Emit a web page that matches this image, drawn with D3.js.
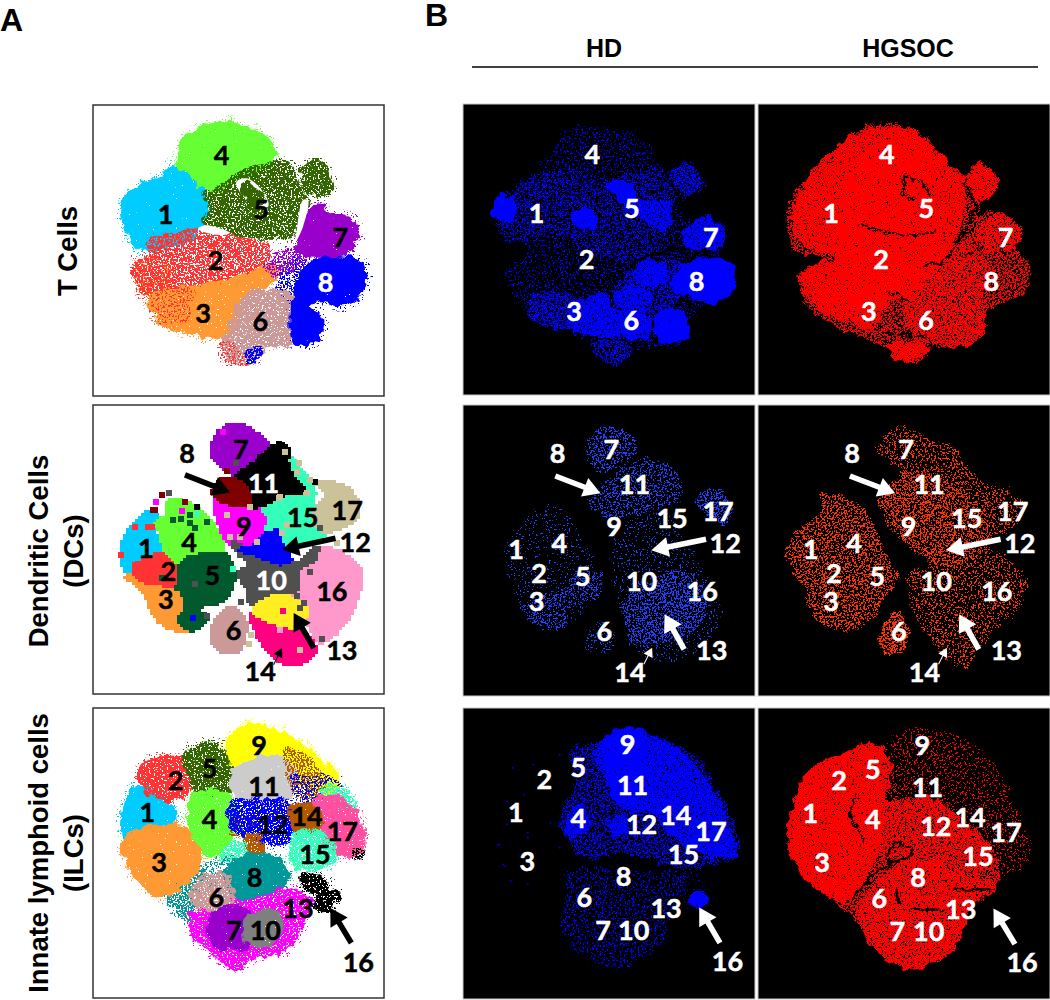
<!DOCTYPE html>
<html>
<head>
<meta charset="utf-8">
<script src="https://cdn.jsdelivr.net/npm/d3@7"></script>
<style>
body { margin: 0; background: #fff; }
svg { display: block; }
text { font-family: "Liberation Sans", Arial, sans-serif; font-weight: bold; }
.num { font-family: Lato, "Open Sans", sans-serif; font-weight: bold; text-anchor: middle; dominant-baseline: central; stroke-width: .5; }
</style>
</head>
<body>
<div id="container"></div>
<script>
// Cluster colours by cluster number, one list per lineage
const tCellColors = { 1: "#00ccff", 2: "#ff3333", 3: "#ff9933", 4: "#66ff33", 5: "#336600", 6: "#cc9999", 7: "#9900cc", 8: "#0000ff" };
const dcColors = { 1: "#00ccff", 2: "#ff3333", 3: "#ff9933", 4: "#66ff33", 5: "#005a2e", 6: "#cc9999", 7: "#9900cc", 8: "#800000", 9: "#ff00ff",
    10: "#505050", 11: "#000000", 12: "#0000ff", 13: "#ffee22", 14: "#ff0080", 15: "#33ffbb", 16: "#ff99cc", 17: "#ccc299" };
const ilcColors = { 1: "#00ccff", 2: "#ff3333", 3: "#ff9933", 4: "#66ff33", 5: "#336600", 6: "#cc9999", 7: "#9900cc", 8: "#009999", 9: "#ffff00",
    10: "#7f7f7f", 11: "#cccccc", 12: "#0000ff", 13: "#ff00ff", 14: "#b35900", 15: "#33ffbb", 16: "#000000", 17: "#ff4fa0" };

// Cluster outlines: [cluster, density, outline]
const tCellBlobs = [
    [1, .96, [[105,345],[120,290],[160,258],[215,235],[250,205],[300,240],[330,270],[345,335],[325,385],[290,420],[220,435],[160,445],[125,405]]],
    [4, .97, [[275,150],[310,100],[400,75],[490,95],[540,135],[545,175],[500,210],[440,230],[380,262],[340,255],[300,215],[270,190]]],
    [5, .8, [[345,290],[400,265],[450,225],[530,200],[590,195],[620,250],[650,300],[630,345],[610,400],[530,405],[460,405],[380,385],[350,365],[370,325]]],
    [5, .85, [[640,215],[680,188],[715,225],[725,265],[690,280],[650,255]]],
    [3, .5, [[140,510],[190,480],[240,520],[200,590],[150,550]]],
    [2, .72, [[180,430],[300,400],[400,405],[470,430],[530,440],[500,510],[440,530],[380,550],[280,560],[190,585],[140,530],[145,490],[200,465]]],
    [3, .94, [[185,600],[280,565],[400,550],[470,530],[550,500],[560,520],[470,590],[440,660],[410,705],[310,690],[220,665]]],
    [2, .3, [[190,600],[300,570],[280,660],[220,660]]],
    [8, .5, [[570,540],[630,480],[650,600],[620,650],[590,600]]],
    [6, .9, [[470,590],[540,575],[610,590],[640,660],[610,720],[520,725],[440,700],[430,670]]],
    [6, .85, [[410,715],[490,720],[510,760],[460,785],[420,770]]],
    [2, .35, [[395,730],[440,750],[470,785],[420,780]]],
    [8, .7, [[470,770],[500,745],[512,760],[480,785]]],
    [7, .97, [[650,365],[690,320],[710,350],[770,355],[800,400],[770,450],[700,460],[630,445]]],
    [8, .98, [[640,520],[700,480],[780,480],[815,500],[810,570],[760,610],[690,590],[650,610],[690,660],[670,720],[620,720],[610,650],[620,610]]],
    [7, .55, [[530,500],[620,450],[640,470],[570,520]]]
];
const tCellGaps = [
    [[440,245],[475,235],[530,290],[535,320],[480,305],[450,275]],
    [[620,400],[640,300],[655,300],[640,380],[615,430]],
    [[325,385],[350,375],[420,398],[400,405],[340,395]]
];
const tCellInner = [
    [5, .92, [[450,260],[470,242],[510,272],[530,310],[500,320],[460,290]]]
];
const dcBlobs = [
    [1, 1, [[100,440],[115,395],[150,360],[170,335],[200,350],[190,390],[220,440],[205,480],[150,500],[130,530],[105,510]]],
    [3, 1, [[110,530],[160,530],[210,550],[280,570],[295,630],[300,690],[230,680],[190,640],[170,590],[135,550]]],
    [2, 1, [[130,510],[205,465],[260,490],[290,520],[270,560],[210,550],[150,540]]],
    [4, 1, [[195,375],[230,345],[240,300],[310,320],[350,350],[390,420],[400,460],[340,470],[280,490],[225,450],[215,400]]],
    [5, 1, [[275,490],[340,465],[410,470],[430,540],[400,600],[340,615],[320,640],[350,650],[340,670],[300,690],[270,660],[290,620],[275,570]]],
    [6, 1, [[385,650],[425,625],[465,670],[445,750],[400,755],[365,715]]],
    [7, 1, [[370,125],[395,90],[445,75],[510,110],[545,150],[520,180],[440,225],[410,210],[370,170]]],
    [9, 1, [[375,305],[420,310],[475,310],[520,330],[525,370],[510,420],[480,445],[430,440],[400,400]]],
    [15, 1, [[590,170],[640,220],[670,270],[670,320],[695,370],[700,410],[620,430],[580,450],[560,400],[520,420],[540,350],[520,325],[590,280],[635,270],[605,230]]],
    [11, 1, [[430,240],[470,205],[510,180],[555,135],[590,145],[590,190],[610,240],[640,270],[590,280],[530,310],[480,320],[460,275]]],
    [8, 1, [[370,270],[410,235],[470,270],[475,310],[420,310],[380,295]]],
    [17, 1, [[680,250],[710,245],[780,275],[805,330],[790,360],[740,385],[700,395],[675,360],[680,320],[710,290]]],
    [16, 1, [[680,445],[750,460],[810,510],[800,590],[770,660],[700,725],[680,720],[640,640],[590,590],[620,570],[625,510]]],
    [10, 1, [[430,430],[480,450],[570,470],[620,490],[680,445],[670,480],[625,510],[620,570],[560,590],[510,625],[480,605],[470,560],[445,525],[480,490],[445,460]]],
    [12, 1, [[450,450],[490,440],[520,410],[560,395],[575,440],[600,480],[570,490],[500,465]]],
    [14, 1, [[485,645],[520,670],[590,680],[660,720],[670,760],[610,795],[550,770],[510,720]]],
    [13, 1, [[490,635],[550,590],[590,590],[650,635],[620,680],[560,670],[510,650]]]
];
// Stray cells on the DC map: [cluster, x, y]
const dcStrays = [
    [8,195,330],[8,215,285],[10,238,280],[8,285,305],[9,198,307],[9,275,332],[11,320,320],[2,137,382],[2,95,465],[2,185,380],
    [5,250,360],[5,300,345],[5,350,365],[5,315,385],[5,272,358],[15,320,342],[10,315,552],[12,310,655],[10,350,650],[15,430,507],
    [10,452,607],[17,482,707],[17,475,733],[10,695,718],[10,660,517],[17,740,428],[17,575,398],[17,620,215],[17,585,155],[11,675,245],
    [17,410,345],[17,420,412],[17,450,410],[14,578,633],[17,630,750],[10,438,190],[8,410,212],[10,690,385],[17,565,295],[17,590,375],
    [16,570,690],[10,620,590],[11,555,140],[11,510,170],[17,650,280],[17,625,190],[17,570,290],[17,660,240],[17,480,320],[17,500,425],
    [9,400,95],[11,575,135],[5,300,370],[8,190,330],[10,640,610],[10,630,625],[5,260,565],[5,215,535],[2,175,380],[2,135,495]
];
const ilcBlobs = [
    [8, .65, [[235,580],[320,500],[340,530],[300,600],[300,655],[250,610]]],
    [1, .96, [[105,370],[115,310],[135,270],[200,290],[250,330],[245,370],[180,385],[110,410]]],
    [2, .9, [[155,230],[170,195],[240,175],[295,190],[305,250],[270,290],[200,285],[160,255]]],
    [3, .95, [[105,440],[135,400],[230,385],[280,395],[325,440],[320,500],[260,570],[210,580],[150,535]]],
    [5, .85, [[290,180],[350,135],[410,160],[435,200],[425,240],[400,280],[340,275],[310,240]]],
    [4, .94, [[300,340],[320,290],[385,280],[430,320],[435,385],[400,440],[370,460],[340,440],[310,390]]],
    [9, .95, [[420,130],[470,85],[560,100],[620,130],[670,170],[740,240],[720,270],[620,240],[590,180],[500,180],[440,205]]],
    [11, .96, [[430,240],[480,190],[570,180],[610,230],[590,295],[510,305],[450,290]]],
    [14, .55, [[600,150],[660,190],[700,260],[680,290],[610,260]]],
    [12, .45, [[610,240],[740,250],[745,290],[640,300]]],
    [15, .7, [[700,270],[745,265],[790,320],[770,330]]],
    [17, .93, [[680,310],[730,290],[790,340],[815,420],[800,460],[730,450],[700,410]]],
    [14, .5, [[440,360],[490,360],[470,400],[430,400]]],
    [12, .8, [[430,310],[520,310],[590,310],[610,400],[550,430],[470,400],[430,380]]],
    [14, .95, [[610,330],[650,320],[690,345],[670,390],[620,385]]],
    [14, .9, [[470,420],[505,410],[515,450],[490,460]]],
    [15, .7, [[400,470],[440,430],[470,440],[430,480]]],
    [15, .85, [[610,420],[640,400],[700,410],[730,440],[720,490],[640,500],[610,470]]],
    [13, .85, [[440,590],[580,570],[660,610],[640,650],[620,700],[580,750],[500,760],[440,800],[380,760],[310,690],[320,640],[390,640]]],
    [8, .95, [[415,510],[480,470],[570,490],[590,530],[540,570],[470,590],[420,560]]],
    [8, .4, [[330,520],[420,480],[420,520],[340,560]]],
    [6, .85, [[330,545],[400,530],[430,590],[400,630],[340,625],[310,600]]],
    [7, .96, [[385,640],[470,640],[480,730],[430,740],[380,730],[360,690]]],
    [10, .96, [[480,650],[550,640],[570,680],[540,730],[480,730],[470,690]]],
    [16, .9, [[640,535],[680,535],[720,570],[745,590],[720,620],[680,620],[700,585],[650,560]]],
    [16, .6, [[795,450],[820,460],[810,475],[795,465]]]
];

// Event density regions on the HD / HGSOC maps: [density, outline]
const tCellHd = [
    [.22, [[130,310],[240,170],[290,95],[480,120],[540,220],[610,190],[645,260],[580,310],[620,370],[660,350],[705,400],[690,480],[725,510],[720,585],[650,610],[610,660],[600,720],[520,740],[460,745],[430,790],[370,750],[290,690],[190,650],[130,520],[190,460],[100,350]]],
    [.3, [[100,340],[180,240],[300,220],[400,240],[540,220],[550,400],[460,480],[380,470],[260,400],[130,420]]],
    [.45, [[360,740],[410,720],[455,750],[430,790],[375,775]]],
    [.6, [[565,225],[605,195],[640,255],[600,275]]],
    [.45, [[420,560],[560,480],[620,520],[560,620],[450,700]]],
    [.5, [[190,650],[210,590],[300,600],[290,680]]],
    [.98, [[92,345],[118,290],[150,335],[130,365]]],
    [.96, [[300,365],[335,330],[365,370],[345,385]]],
    [.98, [[400,260],[420,242],[462,285],[440,308]]],
    [.8, [[440,325],[550,315],[545,400],[500,360]]],
    [.98, [[565,560],[610,495],[715,495],[720,580],[660,605],[600,585]]],
    [.88, [[600,405],[655,355],[700,400],[680,445],[605,435]]],
    [.9, [[465,520],[490,490],[535,490],[555,540],[485,552]]],
    [.85, [[420,590],[465,565],[505,590],[470,640],[425,615]]],
    [.88, [[300,620],[385,595],[420,640],[490,650],[500,715],[430,710],[300,685]]],
    [.97, [[525,660],[560,632],[605,660],[598,715],[535,720]]]
];
const tCellHgsoc = [
    [.55, [[880,330],[905,265],[970,220],[1050,100],[1140,75],[1230,110],[1310,210],[1345,240],[1385,190],[1430,260],[1390,300],[1370,350],[1440,345],[1490,400],[1470,450],[1505,490],[1505,560],[1440,610],[1390,640],[1395,700],[1310,740],[1240,720],[1235,770],[1190,790],[1140,745],[950,640],[905,530],[985,480],[890,440]]],
    [.55, [[1200,500],[1340,430],[1400,500],[1380,600],[1395,700],[1310,740],[1200,700]]],
    [.84, [[900,420],[900,300],[1050,110],[1200,100],[1300,200],[1340,260],[1310,420],[1220,560],[1130,620],[1100,680],[1000,650],[950,620],[910,530],[1000,470]]],
    [.8, [[1000,400],[1050,200],[1200,110],[1260,190],[1180,400],[1200,500],[1100,620],[1000,620],[940,560],[1010,470]]],
    [.8, [[1350,240],[1385,195],[1425,260],[1390,300]]],
    [.85, [[1140,745],[1180,730],[1240,750],[1190,785]]],
    [.8, [[1380,390],[1440,350],[1485,400],[1470,440],[1400,450]]]
];
const tCellStreaks = [
    [[1170,262],[1190,235],[1225,245],[1250,285]],
    [[1172,265],[1190,295],[1215,305]],
    [[1070,370],[1095,385],[1150,400],[1220,405],[1265,392]],
    [[1345,250],[1370,320],[1340,400],[1290,480],[1235,500]],
    [[1340,470],[1400,440]],
    [[1140,580],[1190,600]],
    [[1130,700],[1240,715]]
];
const dcHd = [
    [.1, [[120,470],[180,360],[260,320],[320,420],[370,540],[340,610],[260,690],[170,640],[150,560]]],
    [.3, [[170,620],[240,590],[320,530],[370,520],[370,590],[290,620],[280,680],[220,680]]],
    [.35, [[340,150],[370,95],[440,100],[470,150],[430,190],[370,215]]],
    [.32, [[350,310],[420,220],[500,185],[570,220],[585,290],[500,330],[400,350]]],
    [.45, [[640,290],[680,275],[720,320],[705,365],[650,340]]],
    [.12, [[430,400],[550,340],[590,420],[640,510],[690,660],[600,770],[480,760],[440,640],[410,530]]],
    [.4, [[450,600],[520,540],[600,520],[650,620],[620,690],[500,730],[460,720]]],
    [.2, [[345,700],[380,670],[410,750],[340,745]]]
];
const dcHgsoc = [
    [.42, [[875,460],[900,400],[960,340],[970,290],[1000,290],[1070,330],[1110,420],[1160,540],[1130,590],[1090,660],[1040,690],[980,680],[950,650],[920,570],[890,520]]],
    [.55, [[1120,720],[1160,640],[1190,700],[1170,750],[1130,760]]],
    [.3, [[1115,150],[1170,85],[1250,130],[1300,140],[1370,240],[1470,285],[1490,340],[1450,400],[1390,420],[1500,540],[1470,640],[1400,710],[1340,795],[1290,770],[1250,710],[1210,630],[1195,530],[1260,500],[1200,440],[1140,370],[1120,290],[1180,230]]],
    [.28, [[1125,300],[1200,220],[1350,300],[1400,420],[1300,500],[1190,430]]]
];
const ilcHd = [
    [.45, [[300,155],[380,125],[440,85],[560,130],[640,190],[690,290],[720,350],[730,465],[640,490],[560,490],[420,450],[340,470],[280,390],[270,350],[310,260]]],
    [.82, [[380,125],[440,85],[520,115],[600,170],[670,270],[700,350],[730,465],[700,470],[620,440],[550,390],[530,340],[420,310],[395,230],[360,180]]],
    [.9, [[385,130],[440,90],[490,115],[470,290],[420,300],[395,220]]],
    [.9, [[285,360],[320,320],[345,370],[300,410]]],
    [.9, [[400,365],[440,355],[440,400],[410,400]]],
    [.25, [[290,525],[380,510],[520,520],[600,530],[560,620],[540,720],[420,800],[380,790],[290,720],[275,660],[290,580]]],
    [.08, [[570,480],[620,480],[650,570],[600,630]]],
    [.99, [[612,600],[640,578],[658,595],[640,622]]]
];
// Lone HD cells in the empty left lobe of the ILC map
const ilcHdStrays = [[140,200],[195,190],[125,300],[170,280],[125,370],[180,395],[105,430],[115,490],[135,540],[180,550],[240,365],[265,440],[265,160],[180,410],[100,432],[120,495]];
const ilcHgsoc = [
    [.22, [[1120,150],[1180,95],[1300,100],[1410,190],[1480,340],[1510,470],[1430,520],[1340,370],[1250,300],[1130,310]]],
    [.6, [[875,400],[900,280],[930,210],[1000,175],[1110,135],[1130,300],[1250,300],[1340,370],[1420,470],[1420,560],[1350,620],[1340,680],[1300,750],[1190,800],[1110,750],[1050,650],[950,560],[890,480]]],
    [.5, [[1130,320],[1250,300],[1340,370],[1420,460],[1360,520],[1200,490],[1110,430]]],
    [.85, [[875,400],[900,280],[930,210],[1000,175],[1110,135],[1140,190],[1130,300],[1110,440],[1060,560],[1030,600],[950,560],[890,480]]],
    [.85, [[1060,640],[1100,560],[1160,500],[1220,480],[1330,520],[1420,560],[1350,620],[1340,680],[1300,750],[1190,800],[1110,750]]]
];
const ilcStreaks = [
    [[1055,280],[1040,350],[1075,425]],
    [[1130,470],[1165,430],[1200,460],[1135,490]],
    [[1135,490],[1065,565],[1040,600]],
    [[1310,565],[1410,572]],
    [[1160,570],[1170,610]],
    [[1200,625],[1290,630]]
];

// Cluster number labels: [text, x, y]
const tCellMapLabels = [["1",228,340],["2",378,478],["3",340,636],["4",396,162],["5",514,325],["6",512,660],["7",752,410],["8",708,545]];
const dcMapLabels = [["1",168,443],["2",235,513],["3",228,597],["4",297,425],["5",367,523],["6",430,690],["7",452,145],["8",291,158],["9",461,377],["10",543,540],["11",520,248],["12",794,425],["13",754,748],["14",510,812],["15",637,350],["16",724,572],["17",770,328]];
const ilcMapLabels = [["1",173,335],["2",258,238],["3",208,485],["4",360,355],["5",360,202],["6",380,590],["7",433,690],["8",495,530],["9",508,133],["10",527,690],["11",523,257],["12",550,372],["13",625,622],["14",652,347],["15",676,462],["16",806,785],["17",758,392]];
const whiteOnMap = ["8","10","11"];
const tCellHdLabels = [["4",353,162],["1",205,340],["5",458,325],["2",338,478],["7",668,412],["8",630,545],["3",305,635],["6",457,660]];
const dcHdLabels = [["7",404,148],["8",261,160],["11",465,252],["17",687,332],["15",565,353],["9",411,378],["4",266,428],["1",151,447],["12",706,428],["2",212,518],["5",328,528],["10",484,544],["16",645,574],["3",205,602],["6",385,692],["13",670,750],["14",453,815]];
const ilcHdLabels = [["9",447,130],["5",316,198],["2",226,235],["11",460,253],["1",150,333],["4",316,352],["14",575,343],["12",484,370],["17",668,390],["3",181,480],["15",595,460],["8",436,525],["6",332,588],["13",549,622],["7",382,688],["10",463,688],["16",712,782]];
const ilcHgsocLabels = [["9",1229,133],["5",1098,203],["2",1008,238],["11",1243,258],["1",932,337],["4",1098,355],["14",1356,347],["12",1265,375],["17",1451,393],["3",963,485],["15",1377,465],["8",1218,530],["6",1115,592],["13",1331,626],["7",1163,692],["10",1246,692],["16",1494,785]];

// Arrows: [x1, y1, x2, y2]
const dcMapArrows = [[285,225,420,278],[735,415,575,450],[670,745,610,640],[550,795,575,745]];
const ilcMapArrows = [[785,730,722,625]];
const dcHdArrows = [[255,230,375,282],[655,420,510,453],[597,750,545,645],[490,795,512,745]];
const ilcHdArrows = [[692,728,637,622]];
const ilcHgsocArrows = [[1475,732,1418,625]];

const svg = d3.select("#container").append("svg").attr("width", 1050).attr("height", 1000);
const defs = svg.append("defs");

// Density -> noise threshold for the speckle filter
const noiseThreshold = d3.scaleLinear()
    .domain([0, .1, .3, .5, .7, .9, 1])
    .range([.78, .66, .57, .5, .43, .34, .1]);

const filters = new Set();
function speckle(density, seed) {
    const id = `sp-${Math.round(density * 100)}-${seed}`;
    if (!filters.has(id)) {
        filters.add(id);
        const t = noiseThreshold(density);
        const f = defs.append("filter").attr("id", id)
            .attr("x", "-15%").attr("y", "-15%").attr("width", "130%").attr("height", "130%")
            .attr("color-interpolation-filters", "sRGB");
        f.append("feTurbulence").attr("type", "fractalNoise").attr("baseFrequency", .11).attr("numOctaves", 2).attr("seed", 3).attr("result", "wob");
        f.append("feDisplacementMap").attr("in", "SourceGraphic").attr("in2", "wob").attr("scale", 11)
            .attr("xChannelSelector", "R").attr("yChannelSelector", "G").attr("result", "rough");
        f.append("feTurbulence").attr("type", "fractalNoise").attr("baseFrequency", .55).attr("numOctaves", 2).attr("seed", seed).attr("result", "grain");
        f.append("feColorMatrix").attr("in", "grain").attr("type", "matrix")
            .attr("values", `0 0 0 0 0  0 0 0 0 0  0 0 0 0 0  40 0 0 0 ${-40 * t}`).attr("result", "mask");
        f.append("feComposite").attr("in", "rough").attr("in2", "mask").attr("operator", "in");
    }
    return `url(#${id})`;
}

// Blocky look of the DC map
const pix = defs.append("filter").attr("id", "pixelate").attr("filterUnits", "userSpaceOnUse")
    .attr("x", 93).attr("y", 405).attr("width", 291).attr("height", 289).attr("color-interpolation-filters", "sRGB");
pix.append("feFlood").attr("x", 94).attr("y", 406).attr("width", 1).attr("height", 1).attr("flood-color", "#000");
pix.append("feComposite").attr("x", 93).attr("y", 405).attr("width", 3).attr("height", 3);
pix.append("feTile").attr("result", "grid");
pix.append("feComposite").attr("in", "SourceGraphic").attr("in2", "grid").attr("operator", "in");
pix.append("feMorphology").attr("operator", "dilate").attr("radius", 1);

function makeScales(box, dom) {
    return {
        x: d3.scaleLinear().domain([dom[0], dom[1]]).range([box[0], box[1]]),
        y: d3.scaleLinear().domain([dom[2], dom[3]]).range([box[2], box[3]])
    };
}
function outline(s) {
    return d3.line().x(p => s.x(p[0])).y(p => s.y(p[1])).curve(d3.curveCatmullRomClosed.alpha(.5));
}

function drawLabels(g, s, labels, color) {
    g.selectAll("text.num").data(labels).enter().append("text")
        .attr("class", "num")
        .attr("x", d => s.x(d[1]))
        .attr("y", d => s.y(d[2]))
        .attr("font-size", 27)
        .attr("fill", d => typeof color === "function" ? color(d) : color)
        .attr("stroke", d => typeof color === "function" ? color(d) : color)
        .text(d => d[0]);
}

function drawArrows(g, s, arrows, color) {
    const head = (d, i) => {
        const x1 = s.x(d[0]), y1 = s.y(d[1]), x2 = s.x(d[2]), y2 = s.y(d[3]);
        const a = Math.atan2(y2 - y1, x2 - x1);
        const thin = Math.hypot(x2 - x1, y2 - y1) < 25;
        const w = thin ? 5 : 10, l = thin ? 9 : 17, b = thin ? .5 : 2.8;
        const bx = x2 - l * Math.cos(a), by = y2 - l * Math.sin(a);
        const nx = -Math.sin(a), ny = Math.cos(a);
        const pts = [[x1 + nx * b, y1 + ny * b], [bx + nx * b, by + ny * b], [bx + nx * w, by + ny * w], [x2, y2],
            [bx - nx * w, by - ny * w], [bx - nx * b, by - ny * b], [x1 - nx * b, y1 - ny * b]];
        return d3.line()(pts) + "Z";
    };
    g.selectAll("path.arrow").data(arrows).enter().append("path")
        .attr("class", "arrow").attr("d", head).attr("fill", color);
}

// Panel A: coloured cluster maps
function mapPanel(box, dom, colors, blobs, opts) {
    const s = makeScales(box, dom);
    const line = outline(s);
    const g = svg.append("g");
    g.append("rect").attr("x", box[0]).attr("y", box[2]).attr("width", box[1] - box[0]).attr("height", box[3] - box[2])
        .attr("fill", "#fff");

    if (opts.pixelate) {
        const pg = g.append("g").attr("filter", "url(#pixelate)");
        pg.selectAll("path").data(blobs).enter().append("path")
            .attr("d", d => line(d[2]))
            .attr("fill", d => colors[d[0]])
            .attr("stroke", d => colors[d[0]]).attr("stroke-width", 5)
            .attr("shape-rendering", "crispEdges");
        g.selectAll("rect.stray").data(opts.strays).enter().append("rect")
            .attr("class", "stray")
            .attr("x", d => s.x(d[1]) - 3).attr("y", d => s.y(d[2]) - 3)
            .attr("width", 6).attr("height", 6)
            .attr("fill", d => colors[d[0]])
            .attr("shape-rendering", "crispEdges");
    } else {
        // sparse halo first, so each cluster frays out at its edge
        g.selectAll("path.halo").data(blobs).enter().append("path")
            .attr("class", "halo")
            .attr("d", d => line(d[2]))
            .attr("fill", d => colors[d[0]])
            .attr("stroke", d => colors[d[0]]).attr("stroke-width", 16)
            .attr("filter", d => speckle(.15, d[0] % 3 + 1));
        g.selectAll("path.core").data(blobs).enter().append("path")
            .attr("class", "core")
            .attr("d", d => line(d[2]))
            .attr("fill", d => colors[d[0]])
            .attr("stroke", d => colors[d[0]]).attr("stroke-width", 7)
            .attr("filter", d => speckle(d[1], d[0] % 3 + 1));
        if (opts.gaps) {
            g.selectAll("path.gap").data(opts.gaps).enter().append("path")
                .attr("class", "gap").attr("d", line).attr("fill", "#fff");
        }
        if (opts.inner) {
            g.selectAll("path.inner").data(opts.inner).enter().append("path")
                .attr("class", "inner")
                .attr("d", d => line(d[2]))
                .attr("fill", d => colors[d[0]])
                .attr("filter", d => speckle(d[1], 2));
        }
    }

    g.append("rect").attr("x", box[0]).attr("y", box[2]).attr("width", box[1] - box[0]).attr("height", box[3] - box[2])
        .attr("fill", "none").attr("stroke", "#333").attr("stroke-width", 1.5);
    drawArrows(g, s, opts.arrows || [], "#000");
    drawLabels(g, s, opts.labels, d => whiteOnMap.includes(d[0]) && opts.white.includes(d[0]) ? "#fff" : "#000");
}

// Panel B: density on black
function densityPanel(box, dom, color, regions, labels, arrows, streaks, strays) {
    const s = makeScales(box, dom);
    const line = outline(s);
    const g = svg.append("g");
    g.append("rect").attr("x", box[0]).attr("y", box[2]).attr("width", box[1] - box[0]).attr("height", box[3] - box[2])
        .attr("fill", "#000").attr("stroke", "#c8c8c8").attr("stroke-width", 1);
    g.selectAll("path.region").data(regions).enter().append("path")
        .attr("class", "region")
        .attr("d", d => line(d[1]))
        .attr("fill", color)
        .attr("stroke", color).attr("stroke-width", 4)
        .attr("filter", (d, i) => speckle(d[0], i % 3 + 1));
    if (streaks) {
        const sl = d3.line().x(p => s.x(p[0])).y(p => s.y(p[1])).curve(d3.curveCatmullRom);
        g.selectAll("path.streak").data(streaks).enter().append("path")
            .attr("class", "streak").attr("d", sl).attr("fill", "none")
            .attr("stroke", "#000").attr("stroke-width", 2.5)
            .attr("filter", speckle(.8, 2));
    }
    if (strays) {
        g.selectAll("rect.stray").data(strays).enter().append("rect")
            .attr("class", "stray").attr("x", d => s.x(d[0])).attr("y", d => s.y(d[1]))
            .attr("width", 1.5).attr("height", 1.5).attr("fill", color);
    }
    drawArrows(g, s, arrows || [], "#fff");
    drawLabels(g, s, labels, "#fff");
}

// Panel A maps
mapPanel([93, 384, 105, 396], [10, 883, 15, 887], tCellColors, tCellBlobs,
    { labels: tCellMapLabels, white: ["8"], gaps: tCellGaps, inner: tCellInner });
mapPanel([93, 384, 405, 694], [10, 880, 15, 883], dcColors, dcBlobs,
    { labels: dcMapLabels, white: ["10", "11"], arrows: dcMapArrows, strays: dcStrays, pixelate: true });
mapPanel([93, 384, 708, 998], [10, 883, 25, 895], ilcColors, ilcBlobs,
    { labels: ilcMapLabels, white: [], arrows: ilcMapArrows });

// Panel B maps
const hdX = [463, 755], hgX = [758, 1050];
const hdDom = [10, 785], hgDom = [793, 1568];
densityPanel([...hdX, 104, 395], [...hdDom, 13, 888], "#0000ff", tCellHd, tCellHdLabels);
densityPanel([...hgX, 104, 395], [...hgDom, 13, 888], "#ff0000", tCellHgsoc,
    tCellHdLabels.map(d => [d[0], d[1] + 782, d[2]]), [], tCellStreaks);
densityPanel([...hdX, 405, 696], [...hdDom, 17, 890], "#1f3fff", dcHd, dcHdLabels, dcHdArrows);
densityPanel([...hgX, 405, 696], [...hgDom, 17, 890], "#ff3300", dcHgsoc,
    dcHdLabels.map(d => [d[0], d[1] + 782, d[2]]), dcHdArrows.map(d => [d[0] + 782, d[1], d[2] + 782, d[3]]));
densityPanel([...hdX, 708, 999], [...hdDom, 22, 897], "#0000ff", ilcHd, ilcHdLabels, ilcHdArrows, null, ilcHdStrays);
densityPanel([...hgX, 708, 999], [...hgDom, 22, 897], "#ff0000", ilcHgsoc, ilcHgsocLabels, ilcHgsocArrows, ilcStreaks);

// Titles
svg.append("text").attr("x", 0).attr("y", 31).attr("font-size", 32).text("A");
svg.append("text").attr("x", 425).attr("y", 26).attr("font-size", 32).text("B");
svg.append("text").attr("x", 604).attr("y", 57).attr("font-size", 25).attr("text-anchor", "middle").text("HD");
svg.append("text").attr("x", 908).attr("y", 57).attr("font-size", 25).attr("text-anchor", "middle").text("HGSOC");
svg.append("line").attr("x1", 472).attr("x2", 1038).attr("y1", 67).attr("y2", 67).attr("stroke", "#000").attr("stroke-width", 1.5);

const sideTitles = [["T Cells", 77, 251], ["Dendritic Cells", 48, 551], ["(DCs)", 83, 551], ["Innate lymphoid cells", 48, 853], ["(ILCs)", 83, 853]];
svg.selectAll("text.side").data(sideTitles).enter().append("text")
    .attr("class", "side")
    .attr("transform", d => `translate(${d[1]},${d[2]}) rotate(-90)`)
    .attr("text-anchor", "middle")
    .attr("font-size", 27.5)
    .text(d => d[0]);
</script>
</body>
</html>
